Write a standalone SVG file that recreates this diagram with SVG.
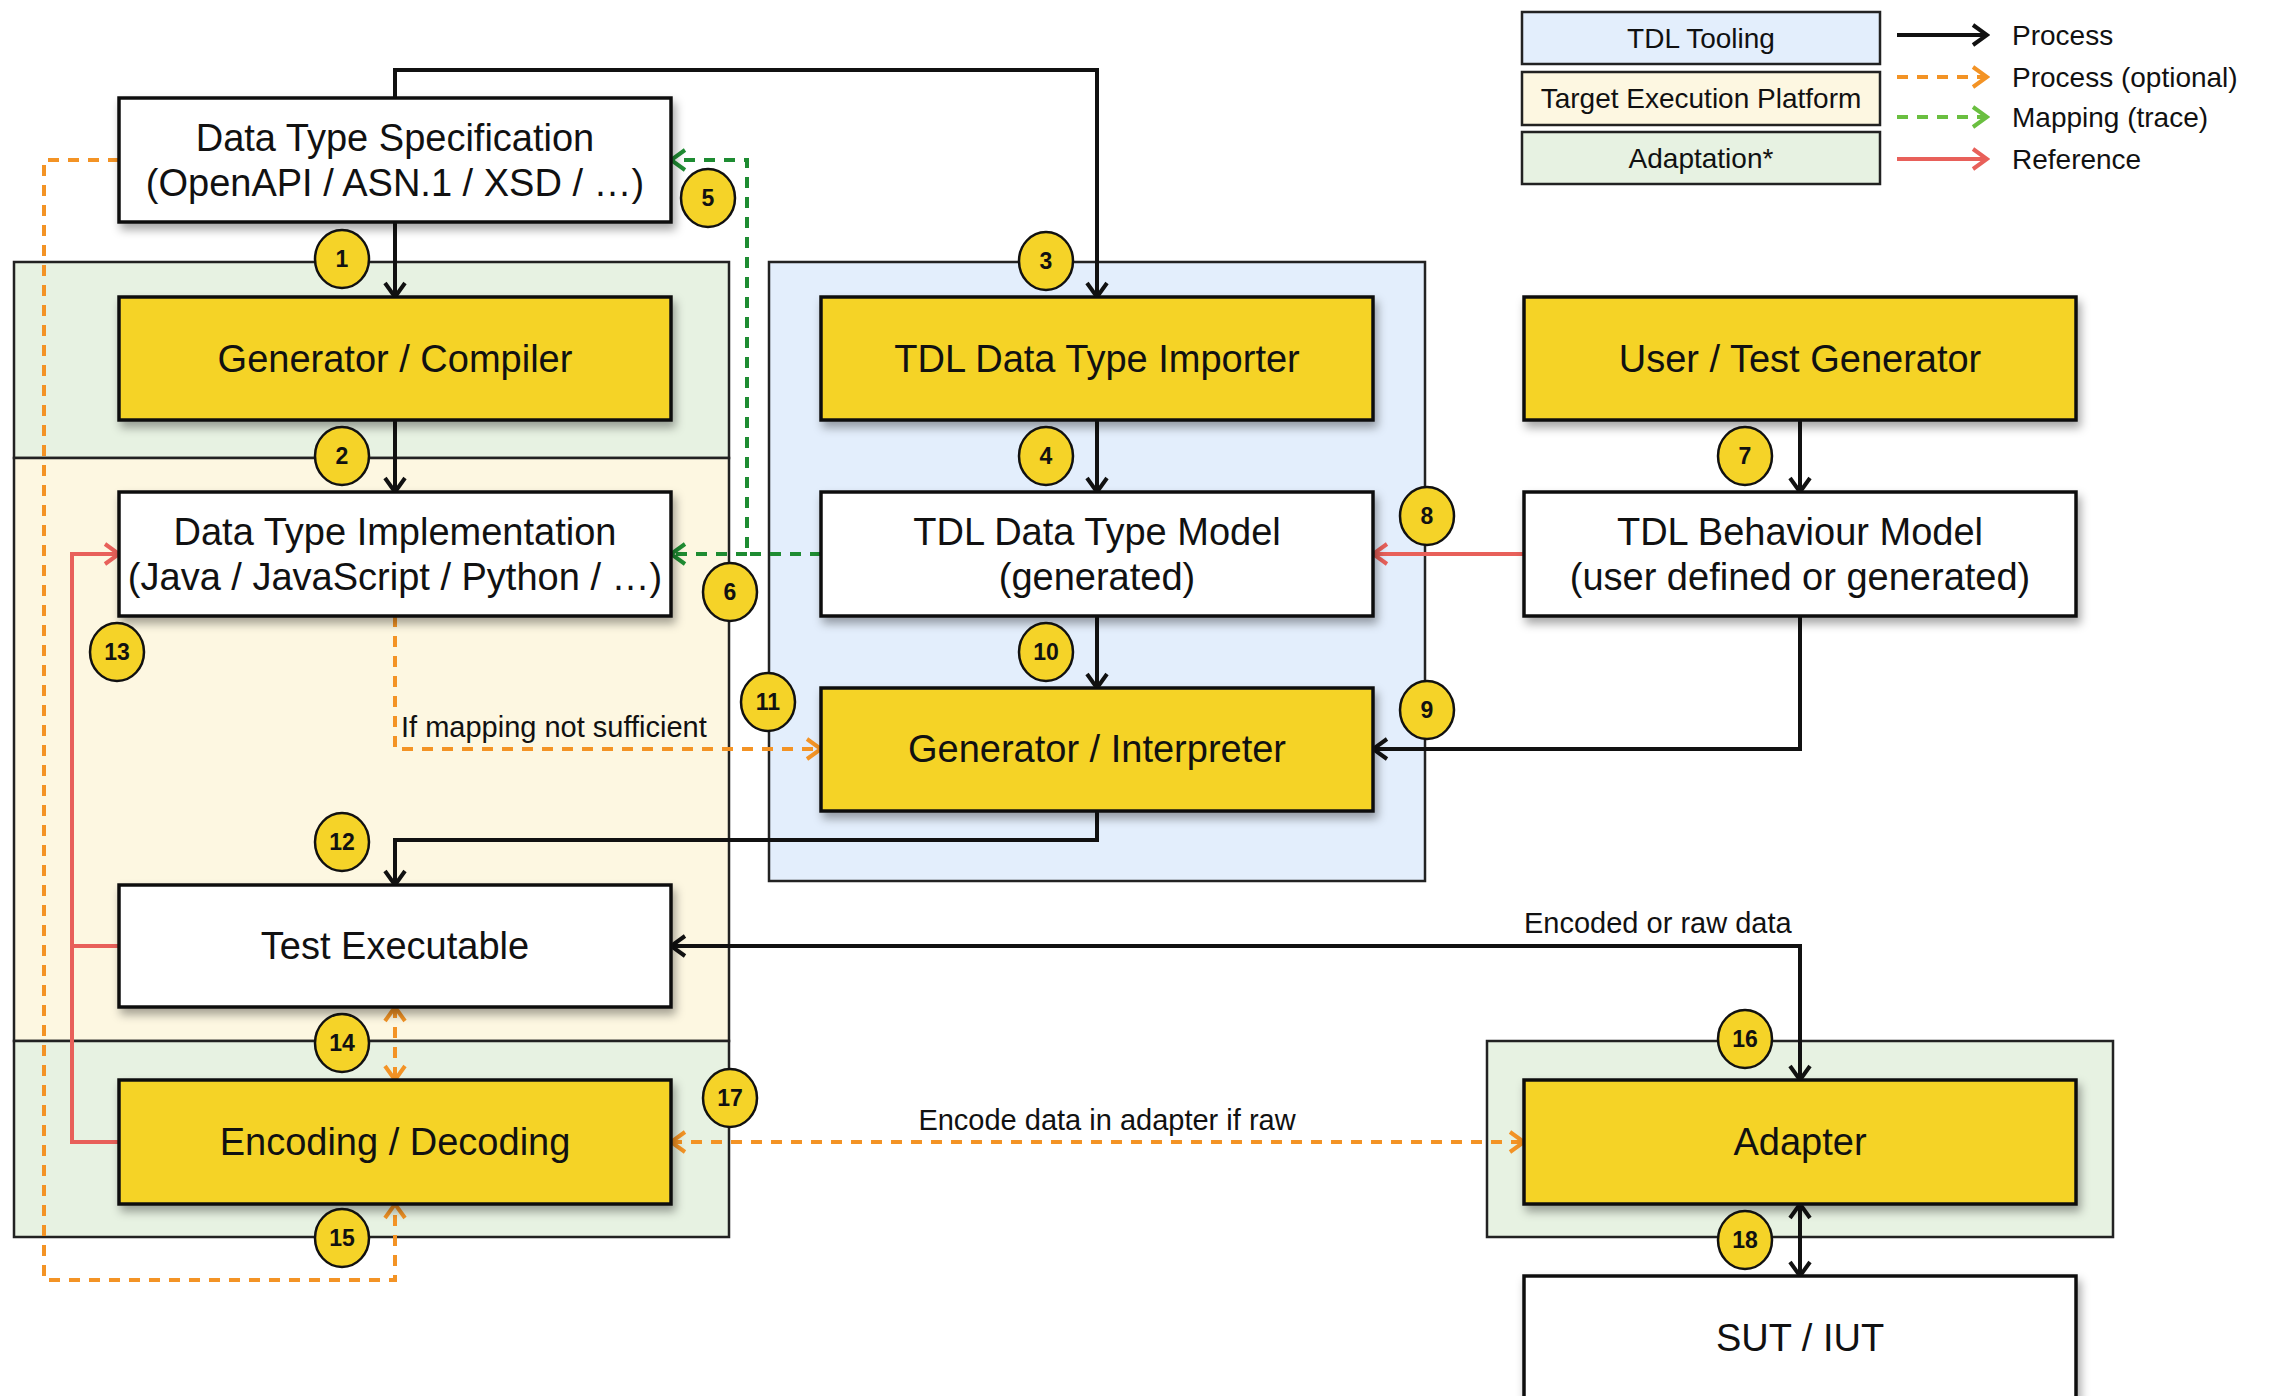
<svg xmlns="http://www.w3.org/2000/svg" width="2271" height="1396" viewBox="0 0 2271 1396">
<style>
  text { font-family: "Liberation Sans", Arial, sans-serif; fill: #111; }
  .node { stroke: #111; stroke-width: 3.5; filter: url(#sh); }
  .proc { fill: #f5d328; }
  .data { fill: #ffffff; }
  .ntext { font-size: 38px; text-anchor: middle; }
  .lbl { font-size: 28px; }
  .clbl { font-size: 29px; }
  .region { stroke: #222; stroke-width: 2.5; }
  .blue { fill: #e3eefc; }
  .cream { fill: #fdf7e1; }
  .green { fill: #e7f2e2; }
  .badge ellipse { fill: #f5d328; stroke: #111; stroke-width: 2.5; }
  .badge text { font-size: 23px; font-weight: bold; text-anchor: middle; }
  .c { fill: none; stroke-width: 4; }
  .blk { stroke: #111; }
  .org { stroke: #f39325; stroke-dasharray: 11 9; }
  .grn { stroke: #1e8c32; stroke-dasharray: 11 9; }
  .red { stroke: #e8605a; }
  .lgrn { stroke: #6abf40; stroke-dasharray: 11 9; }
</style>
<defs>
  <filter id="sh" x="-10%" y="-10%" width="125%" height="140%">
    <feDropShadow dx="3" dy="6" stdDeviation="5" flood-color="#000" flood-opacity="0.35"/>
  </filter>
  <marker id="aB" markerUnits="userSpaceOnUse" markerWidth="22" markerHeight="26" viewBox="0 0 22 26" refX="19" refY="13" orient="auto-start-reverse">
    <path d="M5,3 L19,13 L5,23" fill="none" stroke="#111" stroke-width="4"/>
  </marker>
  <marker id="aO" markerUnits="userSpaceOnUse" markerWidth="22" markerHeight="26" viewBox="0 0 22 26" refX="19" refY="13" orient="auto-start-reverse">
    <path d="M5,3 L19,13 L5,23" fill="none" stroke="#f39325" stroke-width="4"/>
  </marker>
  <marker id="aG" markerUnits="userSpaceOnUse" markerWidth="22" markerHeight="26" viewBox="0 0 22 26" refX="19" refY="13" orient="auto-start-reverse">
    <path d="M5,3 L19,13 L5,23" fill="none" stroke="#1e8c32" stroke-width="4"/>
  </marker>
  <marker id="aR" markerUnits="userSpaceOnUse" markerWidth="22" markerHeight="26" viewBox="0 0 22 26" refX="19" refY="13" orient="auto-start-reverse">
    <path d="M5,3 L19,13 L5,23" fill="none" stroke="#e8605a" stroke-width="4"/>
  </marker>
  <marker id="aL" markerUnits="userSpaceOnUse" markerWidth="22" markerHeight="26" viewBox="0 0 22 26" refX="19" refY="13" orient="auto-start-reverse">
    <path d="M5,3 L19,13 L5,23" fill="none" stroke="#6abf40" stroke-width="4"/>
  </marker>
</defs>
<rect width="2271" height="1396" fill="#ffffff"/>

<g id="regions">
  <rect class="region green" x="14" y="262" width="715" height="196"/>
  <rect class="region cream" x="14" y="458" width="715" height="583"/>
  <rect class="region green" x="14" y="1041" width="715" height="196"/>
  <rect class="region blue" x="769" y="262" width="656" height="619"/>
  <rect class="region green" x="1487" y="1041" width="626" height="196"/>
</g>

<g id="legend">
  <rect class="region blue" x="1522" y="12" width="358" height="52"/>
  <text class="lbl" x="1701" y="48" text-anchor="middle">TDL Tooling</text>
  <rect class="region cream" x="1522" y="72" width="358" height="53"/>
  <text class="lbl" x="1701" y="108" text-anchor="middle">Target Execution Platform</text>
  <rect class="region green" x="1522" y="132" width="358" height="52"/>
  <text class="lbl" x="1701" y="168" text-anchor="middle">Adaptation*</text>
  <line class="c blk" x1="1897" y1="35" x2="1987" y2="35" marker-end="url(#aB)"/>
  <line class="c org" x1="1897" y1="77" x2="1987" y2="77" marker-end="url(#aO)"/>
  <line class="c lgrn" x1="1897" y1="117" x2="1987" y2="117" marker-end="url(#aL)"/>
  <line class="c red" x1="1897" y1="159" x2="1987" y2="159" marker-end="url(#aR)"/>
  <text class="lbl" x="2012" y="45">Process</text>
  <text class="lbl" x="2012" y="87">Process (optional)</text>
  <text class="lbl" x="2012" y="127">Mapping (trace)</text>
  <text class="lbl" x="2012" y="169">Reference</text>
</g>

<g id="connectors">
  <path class="c blk" d="M395,98 V70 H1097 V297" marker-end="url(#aB)"/>
  <path class="c blk" d="M395,222 V297" marker-end="url(#aB)"/>
  <path class="c blk" d="M395,420 V492" marker-end="url(#aB)"/>
  <path class="c blk" d="M1097,420 V492" marker-end="url(#aB)"/>
  <path class="c blk" d="M1097,616 V688" marker-end="url(#aB)"/>
  <path class="c blk" d="M1800,420 V492" marker-end="url(#aB)"/>
  <path class="c red" d="M1524,554 H1373" marker-end="url(#aR)"/>
  <path class="c blk" d="M1800,616 V749 H1373" marker-end="url(#aB)"/>
  <path class="c grn" d="M821,554 H747 V160 H671" marker-end="url(#aG)"/>
  <path class="c grn" d="M747,554 H671" marker-end="url(#aG)"/>
  <path class="c org" d="M395,616 V749 H821" marker-end="url(#aO)"/>
  <path class="c blk" d="M1097,811 V840 H395 V885" marker-end="url(#aB)"/>
  <path class="c blk" d="M671,946 H1800 V1080" marker-start="url(#aB)" marker-end="url(#aB)"/>
  <path class="c red" d="M119,946 H72"/>
  <path class="c red" d="M119,1142 H72 V554 H119" marker-end="url(#aR)"/>
  <path class="c org" d="M395,1007 V1080" marker-start="url(#aO)" marker-end="url(#aO)"/>
  <path class="c org" d="M119,160 H44 V1280 H395 V1204" marker-end="url(#aO)"/>
  <path class="c org" d="M671,1142 H1524" marker-start="url(#aO)" marker-end="url(#aO)"/>
  <path class="c blk" d="M1800,1204 V1276" marker-start="url(#aB)" marker-end="url(#aB)"/>
  <text class="clbl" x="401" y="737">If mapping not sufficient</text>
  <text class="clbl" x="1524" y="933">Encoded or raw data</text>
  <text class="clbl" x="1107" y="1130" text-anchor="middle">Encode data in adapter if raw</text>
</g>

<g id="n-dts"><rect class="node data" x="119" y="98" width="552" height="124"/>
  <text class="ntext" x="395" y="151">Data Type Specification</text>
  <text class="ntext" x="395" y="196">(OpenAPI / ASN.1 / XSD / …)</text></g>
<g id="n-gencomp"><rect class="node proc" x="119" y="297" width="552" height="123"/>
  <text class="ntext" x="395" y="372">Generator / Compiler</text></g>
<g id="n-dti"><rect class="node data" x="119" y="492" width="552" height="124"/>
  <text class="ntext" x="395" y="545">Data Type Implementation</text>
  <text class="ntext" x="395" y="590">(Java / JavaScript / Python / …)</text></g>
<g id="n-testexec"><rect class="node data" x="119" y="885" width="552" height="122"/>
  <text class="ntext" x="395" y="959">Test Executable</text></g>
<g id="n-encdec"><rect class="node proc" x="119" y="1080" width="552" height="124"/>
  <text class="ntext" x="395" y="1155">Encoding / Decoding</text></g>
<g id="n-importer"><rect class="node proc" x="821" y="297" width="552" height="123"/>
  <text class="ntext" x="1097" y="372">TDL Data Type Importer</text></g>
<g id="n-dtm"><rect class="node data" x="821" y="492" width="552" height="124"/>
  <text class="ntext" x="1097" y="545">TDL Data Type Model</text>
  <text class="ntext" x="1097" y="590">(generated)</text></g>
<g id="n-geninterp"><rect class="node proc" x="821" y="688" width="552" height="123"/>
  <text class="ntext" x="1097" y="762">Generator / Interpreter</text></g>
<g id="n-usergen"><rect class="node proc" x="1524" y="297" width="552" height="123"/>
  <text class="ntext" x="1800" y="372">User / Test Generator</text></g>
<g id="n-tbm"><rect class="node data" x="1524" y="492" width="552" height="124"/>
  <text class="ntext" x="1800" y="545">TDL Behaviour Model</text>
  <text class="ntext" x="1800" y="590">(user defined or generated)</text></g>
<g id="n-adapter"><rect class="node proc" x="1524" y="1080" width="552" height="124"/>
  <text class="ntext" x="1800" y="1155">Adapter</text></g>
<g id="n-sut"><rect class="node data" x="1524" y="1276" width="552" height="140"/>
  <text class="ntext" x="1800" y="1351">SUT / IUT</text></g>

<g id="badges">
  <g class="badge"><ellipse cx="342" cy="259" rx="27" ry="29"/><text x="342" y="267">1</text></g>
  <g class="badge"><ellipse cx="342" cy="456" rx="27" ry="29"/><text x="342" y="464">2</text></g>
  <g class="badge"><ellipse cx="1046" cy="261" rx="27" ry="29"/><text x="1046" y="269">3</text></g>
  <g class="badge"><ellipse cx="1046" cy="456" rx="27" ry="29"/><text x="1046" y="464">4</text></g>
  <g class="badge"><ellipse cx="708" cy="198" rx="27" ry="29"/><text x="708" y="206">5</text></g>
  <g class="badge"><ellipse cx="730" cy="592" rx="27" ry="29"/><text x="730" y="600">6</text></g>
  <g class="badge"><ellipse cx="1745" cy="456" rx="27" ry="29"/><text x="1745" y="464">7</text></g>
  <g class="badge"><ellipse cx="1427" cy="516" rx="27" ry="29"/><text x="1427" y="524">8</text></g>
  <g class="badge"><ellipse cx="1427" cy="710" rx="27" ry="29"/><text x="1427" y="718">9</text></g>
  <g class="badge"><ellipse cx="1046" cy="652" rx="27" ry="29"/><text x="1046" y="660">10</text></g>
  <g class="badge"><ellipse cx="768" cy="702" rx="27" ry="29"/><text x="768" y="710">11</text></g>
  <g class="badge"><ellipse cx="342" cy="842" rx="27" ry="29"/><text x="342" y="850">12</text></g>
  <g class="badge"><ellipse cx="117" cy="652" rx="27" ry="29"/><text x="117" y="660">13</text></g>
  <g class="badge"><ellipse cx="342" cy="1043" rx="27" ry="29"/><text x="342" y="1051">14</text></g>
  <g class="badge"><ellipse cx="342" cy="1238" rx="27" ry="29"/><text x="342" y="1246">15</text></g>
  <g class="badge"><ellipse cx="1745" cy="1039" rx="27" ry="29"/><text x="1745" y="1047">16</text></g>
  <g class="badge"><ellipse cx="730" cy="1098" rx="27" ry="29"/><text x="730" y="1106">17</text></g>
  <g class="badge"><ellipse cx="1745" cy="1240" rx="27" ry="29"/><text x="1745" y="1248">18</text></g>
</g>
</svg>
